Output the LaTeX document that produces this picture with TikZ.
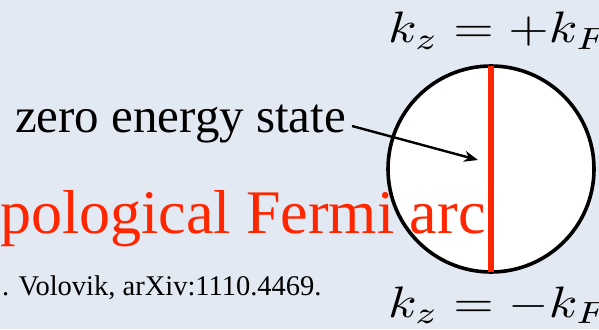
\documentclass[tikz,border=0pt]{standalone}
\usepackage[no-math]{fontspec}
\usepackage{graphicx}
\newfontfamily\slidefont{Liberation Serif}
\usetikzlibrary{arrows.meta}
\definecolor{slidebg}{RGB}{227,233,242}
\definecolor{arcred}{RGB}{255,38,0}

\begin{document}
\begin{tikzpicture}[x=1pt,y=-1pt,>={Stealth[length=14pt,width=11pt]},
	every node/.style={inner sep=0,outer sep=0}]
	\fill[slidebg] (0,0) rectangle (599,329);
	\useasboundingbox (0,0) rectangle (599,329);
	% Fermi surface with the arc
	\node[circle,draw,fill=white,line width=3.6pt,minimum size=206pt] (fs) at (491,169) {};
	\draw[arcred,line width=6pt] (fs.north) -- (fs.south);
	\node[anchor=base west] (kplus) at (388,43) {\scalebox{5.2}[4.4]{$k_z=+k_F$}};
	\node[anchor=base west] (kminus) at (388,317) {\scalebox{5.2}[4.4]{$k_z=-k_F$}};
	% labels
	\node[anchor=base west,font=\slidefont\fontsize{49}{49}\selectfont] (zes) at (15,132) {zero energy state};
	\coordinate (tip) at (478,160);
	\draw[->,line width=2.4pt] ([xshift=6pt,yshift=6pt]zes.base east) -- (tip);
	\node[anchor=base west,text=arcred,font=\slidefont\fontsize{62}{62}\selectfont] (arc) at (0,233) {pological Fermi arc};
	\node[anchor=base west,font=\slidefont\fontsize{28.5}{28.5}\selectfont] (ref) at (2,295) {. Volovik, arXiv:1110.4469.};
\end{tikzpicture}
\end{document}
